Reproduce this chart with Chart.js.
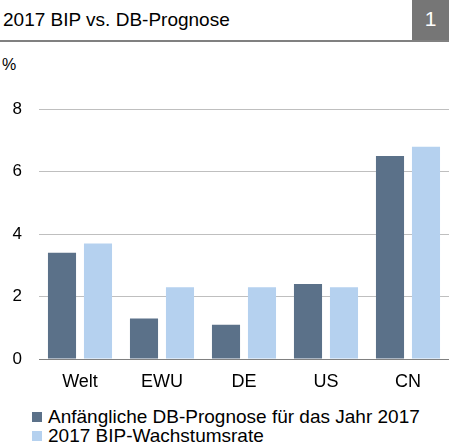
<!DOCTYPE html>
<html>
<head>
<meta charset="utf-8">
<script src="https://cdn.jsdelivr.net/npm/chart.js@4"></script>
<style>
  body { margin: 0; background: #fff; font-family: "Liberation Sans", Arial, sans-serif; }
  #wrap { position: relative; width: 449px; height: 447px; overflow: hidden; }
  #titel { position: absolute; left: 3px; top: 9px; font-size: 19px; line-height: 21px; color: #000; }
  #nr { position: absolute; left: 412px; top: 0; width: 37px; height: 40px; background: #767676;
        color: #fff; font-size: 21px; text-align: center; line-height: 38px; }
  #linie { position: absolute; left: 0; top: 40px; width: 449px; height: 2px; background: #808080; }
  #einheit { position: absolute; left: 2px; top: 56px; font-size: 16px; }
  #chartBox { position: absolute; left: 0; top: 82px; width: 449px; height: 313px; }
  #legende { position: absolute; left: 32px; top: 407px; font-size: 19px; line-height: 19px; }
  .eintrag { display: flex; align-items: center; }
  .box { width: 10px; height: 10px; margin-right: 6px; }
</style>
</head>
<body>
<div id="wrap">
  <div id="titel">2017 BIP vs. DB-Prognose</div>
  <div id="nr">1</div>
  <div id="linie"></div>
  <div id="einheit">%</div>
  <div id="chartBox"><canvas id="chart" width="449" height="313"></canvas></div>
  <div id="legende"></div>
</div>
<script>
/* ======================================================
   DATEN
====================================================== */
const laender = ["Welt", "EWU", "DE", "US", "CN"];
const prognose = [3.4, 1.3, 1.1, 2.4, 6.5];
const wachstum = [3.7, 2.3, 2.3, 2.3, 6.8];
const yTicks = [0, 2, 4, 6, 8];

const serien = [
  { name: "Anfängliche DB-Prognose für das Jahr 2017", werte: prognose, farbe: "#5b7189" },
  { name: "2017 BIP-Wachstumsrate", werte: wachstum, farbe: "#b5d1ef" }
];

/* ======================================================
   LEGENDE
====================================================== */
const legende = document.getElementById("legende");
serien.forEach(s => {
  legende.innerHTML += `<div class="eintrag"><span class="box" style="background:${s.farbe}"></span>${s.name}</div>`;
});

/* ======================================================
   CHART
====================================================== */
const familie = "'Liberation Sans', Arial, sans-serif";

new Chart(document.getElementById("chart"), {
  type: "bar",
  data: {
    labels: laender,
    datasets: serien.map(s => ({
      label: s.name,
      data: s.werte,
      backgroundColor: s.farbe,
      categoryPercentage: 0.878,
      barPercentage: 0.78
    }))
  },
  options: {
    responsive: false,
    animation: false,
    layout: { padding: 0 },
    plugins: { legend: { display: false }, tooltip: { enabled: false } },
    scales: {
      x: {
        grid: { display: false, drawTicks: false },
        border: { color: "#808080", width: 1 },
        ticks: { color: "#000", font: { family: familie, size: 18 }, padding: 12 },
        afterFit: a => { a.height = 36; }
      },
      y: {
        min: 0,
        max: 8,
        afterBuildTicks: a => { a.ticks = yTicks.map(v => ({ value: v })); },
        grid: { color: "#bfbfbf", drawTicks: false },
        border: { display: false },
        ticks: { color: "#000", font: { family: familie, size: 17 }, padding: 17 },
        afterFit: a => { a.width = 39; }
      }
    }
  }
});
</script>
</body>
</html>
